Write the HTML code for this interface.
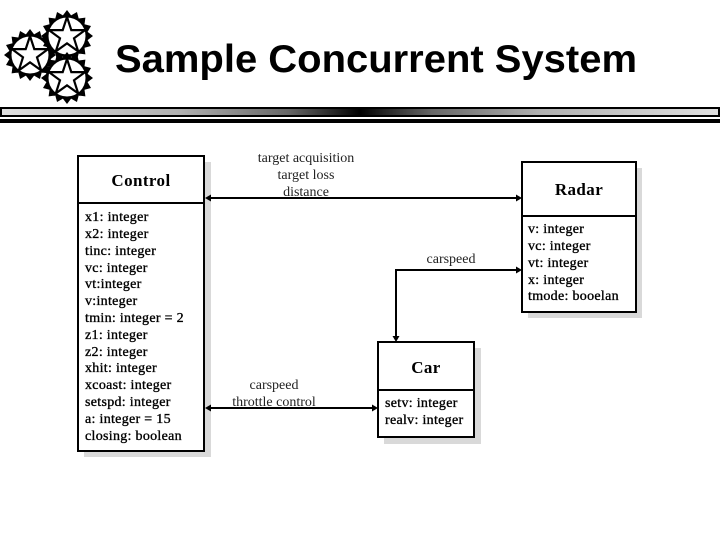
<!DOCTYPE html>
<html><head><meta charset="utf-8"><style>
html,body{margin:0;padding:0;background:#fff}
svg{display:block}
.t{font-family:"Liberation Serif",serif;font-size:14px;fill:#000;stroke:#000;stroke-width:.35px;letter-spacing:.3px}
.h{font-family:"Liberation Serif",serif;font-size:17px;font-weight:bold;fill:#000;text-anchor:middle;letter-spacing:.4px}
.l{font-family:"Liberation Serif",serif;font-size:14px;fill:#222;text-anchor:middle}
</style></head><body>
<svg width="720" height="540" viewBox="0 0 720 540" xmlns="http://www.w3.org/2000/svg">
<defs>
<linearGradient id="g" x1="0" x2="1" y1="0" y2="0">
<stop offset="0" stop-color="#e0e0e0"/><stop offset=".25" stop-color="#b0b0b0"/><stop offset=".4" stop-color="#666"/><stop offset=".5" stop-color="#000"/><stop offset=".6" stop-color="#666"/><stop offset=".75" stop-color="#b0b0b0"/><stop offset="1" stop-color="#e0e0e0"/>
</linearGradient>
<g id="s">
<polygon fill="#000" points="26,0 20.6,4.1 24,9.95 17.5,11.7 18.4,18.4 11.7,17.5 9.95,24 4.1,20.6 0,26 -4.1,20.6 -9.95,24 -11.7,17.5 -18.4,18.4 -17.5,11.7 -24,9.95 -20.6,4.1 -26,0 -20.6,-4.1 -24,-9.95 -17.5,-11.7 -18.4,-18.4 -11.7,-17.5 -9.95,-24 -4.1,-20.6 0,-26 4.1,-20.6 9.95,-24 11.7,-17.5 18.4,-18.4 17.5,-11.7 24,-9.95 20.6,-4.1"/>
<circle r="18.5" fill="#fff"/>
<polygon points="0,-19 4.3,-5.9 18.1,-5.9 7,2.3 11.2,15.4 0,7.3 -11.2,15.4 -7,2.3 -18.1,-5.9 -4.3,-5.9" fill="#fff" stroke="#000" stroke-width="2.2"/>
</g>
</defs>
<use href="#s" x="30" y="55"/><use href="#s" x="67" y="36"/><use href="#s" x="67" y="78"/>
<text x="115" y="72" font-family="Liberation Sans,sans-serif" font-weight="bold" font-size="39" textLength="522" lengthAdjust="spacingAndGlyphs">Sample Concurrent System</text>
<rect x="1" y="108" width="718" height="8" fill="url(#g)" stroke="#000" stroke-width="2"/>
<rect x="0" y="119" width="720" height="4" fill="#000"/>

<!-- shadows -->
<rect x="84" y="162" width="127" height="295" fill="#d9d9d9"/>
<rect x="528" y="168" width="114" height="150" fill="#d9d9d9"/>
<rect x="384" y="348" width="97" height="96" fill="#d9d9d9"/>

<!-- boxes -->
<g fill="#fff" stroke="#000" stroke-width="2">
<rect x="78" y="156" width="126" height="295"/>
<rect x="522" y="162" width="114" height="150"/>
<rect x="378" y="342" width="96" height="95"/>
</g>
<g stroke="#000" stroke-width="2">
<line x1="78" y1="203" x2="204" y2="203"/>
<line x1="522" y1="216" x2="636" y2="216"/>
<line x1="378" y1="390" x2="474" y2="390"/>
</g>

<text class="h" x="141" y="186">Control</text>
<text class="h" x="579" y="195">Radar</text>
<text class="h" x="426" y="373">Car</text>

<text class="t" x="85" y="221">x1: integer</text>
<text class="t" x="85" y="238">x2: integer</text>
<text class="t" x="85" y="255">tinc: integer</text>
<text class="t" x="85" y="272">vc: integer</text>
<text class="t" x="85" y="288">vt:integer</text>
<text class="t" x="85" y="305">v:integer</text>
<text class="t" x="85" y="322">tmin: integer = 2</text>
<text class="t" x="85" y="339">z1: integer</text>
<text class="t" x="85" y="356">z2: integer</text>
<text class="t" x="85" y="372">xhit: integer</text>
<text class="t" x="85" y="389">xcoast: integer</text>
<text class="t" x="85" y="406">setspd: integer</text>
<text class="t" x="85" y="423">a: integer = 15</text>
<text class="t" x="85" y="440">closing: boolean</text>

<text class="t" x="528" y="233">v: integer</text>
<text class="t" x="528" y="250">vc: integer</text>
<text class="t" x="528" y="267">vt: integer</text>
<text class="t" x="528" y="284">x: integer</text>
<text class="t" x="528" y="300">tmode: booelan</text>

<text class="t" x="385" y="407">setv: integer</text>
<text class="t" x="385" y="424">realv: integer</text>

<text class="l" x="306" y="162">target acquisition</text>
<text class="l" x="306" y="179">target loss</text>
<text class="l" x="306" y="196">distance</text>
<text class="l" x="451" y="263">carspeed</text>
<text class="l" x="274" y="389">carspeed</text>
<text class="l" x="274" y="406">throttle control</text>

<!-- connectors -->
<g stroke="#000" stroke-width="2" fill="none">
<line x1="208" y1="198" x2="518" y2="198"/>
<polyline points="518,270 396,270 396,337"/>
<line x1="209" y1="408" x2="374" y2="408"/>
</g>
<g fill="#000">
<polygon points="205,198 211,194.5 211,201.5"/>
<polygon points="522,198 516,194.5 516,201.5"/>
<polygon points="522,270 516,266.5 516,273.5"/>
<polygon points="396,342 392.5,336 399.5,336"/>
<polygon points="205,408 211,404.5 211,411.5"/>
<polygon points="378,408 372,404.5 372,411.5"/>
</g>
</svg>
</body></html>
